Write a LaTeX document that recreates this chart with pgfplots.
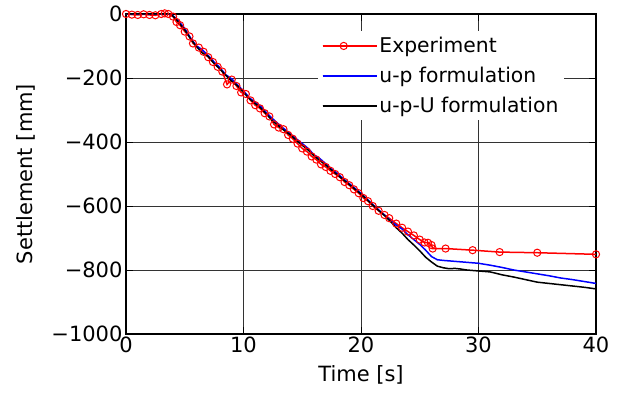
\documentclass[border=0pt]{standalone}
\usepackage{pgfplots}
\pgfplotsset{compat=1.18}
\usepackage{fontspec}
\setmainfont{DejaVu Sans}
\begin{document}
\begin{tikzpicture}
\path[use as bounding box] (-126pt,-60pt) rectangle (495pt,334pt);
\begin{axis}[
  at={(0,0)}, anchor=south west,
  scale only axis, width=470pt, height=320pt,
  xmin=0, xmax=40, ymin=-1000, ymax=0,
  xtick={0,10,20,30,40},
  ytick={-1000,-800,-600,-400,-200,0},
  yticklabels={−1000,−800,−600,−400,−200,0},
  xticklabels={0,10,20,30,40},
  tick align=inside, major tick length=7pt,
  tick style={black, line width=0.8pt},
  axis line style={line width=1.2pt},
  grid=major, grid style={black!80, line width=0.8pt},
  ticklabel style={font=\fontsize{21}{24}\selectfont},
  xticklabel style={yshift=1pt},
  label style={font=\fontsize{21}{24}\selectfont},
  xlabel={Time [s]}, ylabel={Settlement [mm]},
  xlabel style={yshift=-6pt},
  ylabel style={yshift=9pt},
  clip=false,
  legend style={draw=none, fill=white, at={(0.408,0.946)}, anchor=north west,
    font=\fontsize{20.3}{23}\selectfont, row sep=9pt, inner sep=4pt},
  legend cell align=left,
  legend image code/.code={
    \draw[mark repeat=2,mark phase=2,#1] plot coordinates {(0pt,0pt)(21pt,0pt)(42pt,0pt)};
    \path (0pt,0pt) -- (54pt,0pt);},
]
\addplot[red, line width=1.5pt, mark=o, mark size=3.6pt, mark options={line width=1pt}] coordinates {
(0,0)(0.5,-2)(1,-3)(1.5,-1)(2,-3)(2.5,-4)(3,0)(3.3,2)(3.6,0)(4,-8)(4.3,-25)(4.6,-35)
(5,-55)(5.4,-70)(5.7,-92)(6.2,-105)(6.6,-118)(7,-135)(7.4,-150)(7.8,-165)(8.2,-180)(8.6,-220)
(9,-205)(9.4,-225)(9.8,-245)(10.2,-250)(10.6,-270)(11,-285)(11.4,-295)(11.8,-310)(12.2,-320)
(12.6,-345)(13,-355)(13.4,-360)(13.8,-378)(14.2,-390)(14.6,-405)(15,-420)(15.4,-430)
(15.8,-445)(16.2,-455)(16.6,-470)(17,-478)(17.4,-490)(17.8,-500)(18.2,-510)(18.6,-525)
(19,-535)(19.4,-548)(19.8,-560)(20.2,-575)(20.6,-585)(21,-600)(21.5,-615)(22,-628)
(22.4,-638)(23,-655)(23.5,-668)(24,-680)(24.5,-692)(25,-705)(25.4,-714)(25.7,-715)
(26,-722)(26.1,-733)(27.2,-733)(29.5,-738)(31.8,-744)(35,-746)(40,-751)
};
\addlegendentry{Experiment}
\addplot[blue, line width=1.5pt] coordinates {
(0,0)(3,0)(3.8,0)(4.3,-15)(5,-45)(5.5,-75)(6,-100)(6.5,-112)(7,-130)(7.5,-150)(8,-168)
(8.5,-190)(9,-203)(9.5,-222)(10,-240)(10.5,-262)(11,-276)(11.5,-290)(12,-310)(12.5,-328)
(13,-345)(13.5,-360)(14,-375)(14.5,-390)(15,-405)(15.5,-420)(16,-440)(16.5,-452)(17,-468)
(17.5,-485)(18,-498)(18.5,-515)(19,-530)(19.5,-545)(20,-560)(20.5,-578)(21,-595)(21.5,-612)
(22,-628)(22.5,-645)(23,-660)(23.5,-672)(24,-690)(24.5,-705)(25,-720)(25.5,-738)(26,-758)
(26.5,-768)(27,-770)(28,-773)(29,-776)(30,-779)(31,-785)(32,-792)(33,-800)(34,-806)
(35,-812)(36,-818)(37,-825)(38,-830)(39,-836)(40,-842)
};
\addlegendentry{u-p formulation}
\addplot[black, line width=1.5pt] coordinates {
(0,0)(3,0)(3.8,0)(4.3,-18)(5,-50)(5.5,-78)(6,-102)(6.5,-122)(7,-133)(7.5,-155)(8,-172)
(8.5,-192)(9,-210)(9.5,-225)(10,-245)(10.5,-265)(11,-280)(11.5,-295)(12,-315)(12.5,-335)
(13,-350)(13.5,-365)(14,-378)(14.5,-395)(15,-410)(15.5,-425)(16,-443)(16.5,-458)(17,-472)
(17.5,-488)(18,-503)(18.5,-518)(19,-533)(19.5,-548)(20,-563)(20.5,-580)(21,-597)(21.5,-614)
(22,-630)(22.5,-648)(23,-668)(23.5,-685)(24,-705)(24.5,-722)(25,-740)(25.5,-760)(26,-775)
(26.5,-788)(27,-793)(27.5,-796)(28,-795)(28.5,-797)(29,-800)(30,-803)(31,-806)(32,-815)
(33,-822)(34,-830)(35,-838)(36,-842)(37,-846)(38,-850)(39,-854)(40,-859)
};
\addlegendentry{u-p-U formulation}
\end{axis}
\end{tikzpicture}
\end{document}
